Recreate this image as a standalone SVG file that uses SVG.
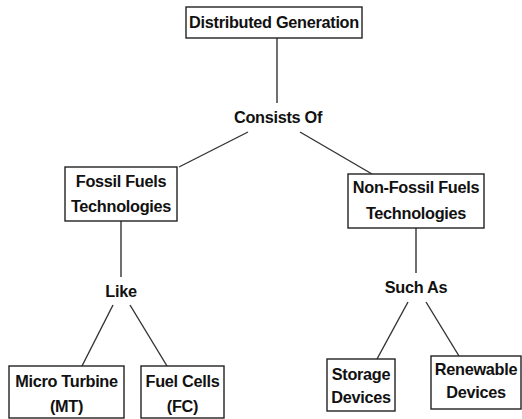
<svg xmlns="http://www.w3.org/2000/svg" width="522" height="419" viewBox="0 0 522 419">
<style>
.box{fill:#fff;stroke:#222;stroke-width:1.4}
.t{font-family:"Liberation Sans",Arial,sans-serif;font-weight:bold;font-size:16.3px;fill:#111;text-anchor:middle;letter-spacing:-0.3px}
.c line{stroke:#333;stroke-width:1.4}
</style>
<rect width="522" height="419" fill="#fff"/>
<g class="c" id="connectors">
<line x1="277" y1="38" x2="277" y2="103"/>
<line x1="248" y1="132" x2="179" y2="167"/>
<line x1="300" y1="132" x2="372" y2="174"/>
<line x1="121" y1="221" x2="121" y2="277"/>
<line x1="113" y1="305" x2="82" y2="366"/>
<line x1="130" y1="305" x2="167" y2="366"/>
<line x1="416" y1="228" x2="416" y2="273"/>
<line x1="408" y1="302" x2="377" y2="359"/>
<line x1="426" y1="302" x2="459" y2="356"/>
</g>
<g id="dg"><rect class="box" x="186" y="7" width="176" height="31"/><text class="t" x="274" y="28">Distributed Generation</text></g>
<g id="consists"><text class="t" x="278" y="123">Consists Of</text></g>
<g id="fossil"><rect class="box" x="65" y="167" width="112" height="54"/><text class="t" x="121" y="187">Fossil Fuels</text><text class="t" x="121" y="212">Technologies</text></g>
<g id="nonfossil"><rect class="box" x="348" y="174" width="136" height="54"/><text class="t" x="416" y="193">Non-Fossil Fuels</text><text class="t" x="416" y="219">Technologies</text></g>
<g id="like"><text class="t" x="121" y="297">Like</text></g>
<g id="suchas"><text class="t" x="416" y="293">Such As</text></g>
<g id="mt"><rect class="box" x="9" y="366" width="115" height="52"/><text class="t" x="66.5" y="387">Micro Turbine</text><text class="t" x="66.5" y="412">(MT)</text></g>
<g id="fc"><rect class="box" x="141" y="366" width="83" height="52"/><text class="t" x="182.5" y="387">Fuel Cells</text><text class="t" x="182.5" y="412">(FC)</text></g>
<g id="storage"><rect class="box" x="327" y="359" width="68" height="52"/><text class="t" x="361" y="380">Storage</text><text class="t" x="361" y="403">Devices</text></g>
<g id="renewable"><rect class="box" x="431" y="356" width="90" height="53"/><text class="t" x="476" y="375">Renewable</text><text class="t" x="476" y="398">Devices</text></g>
</svg>
